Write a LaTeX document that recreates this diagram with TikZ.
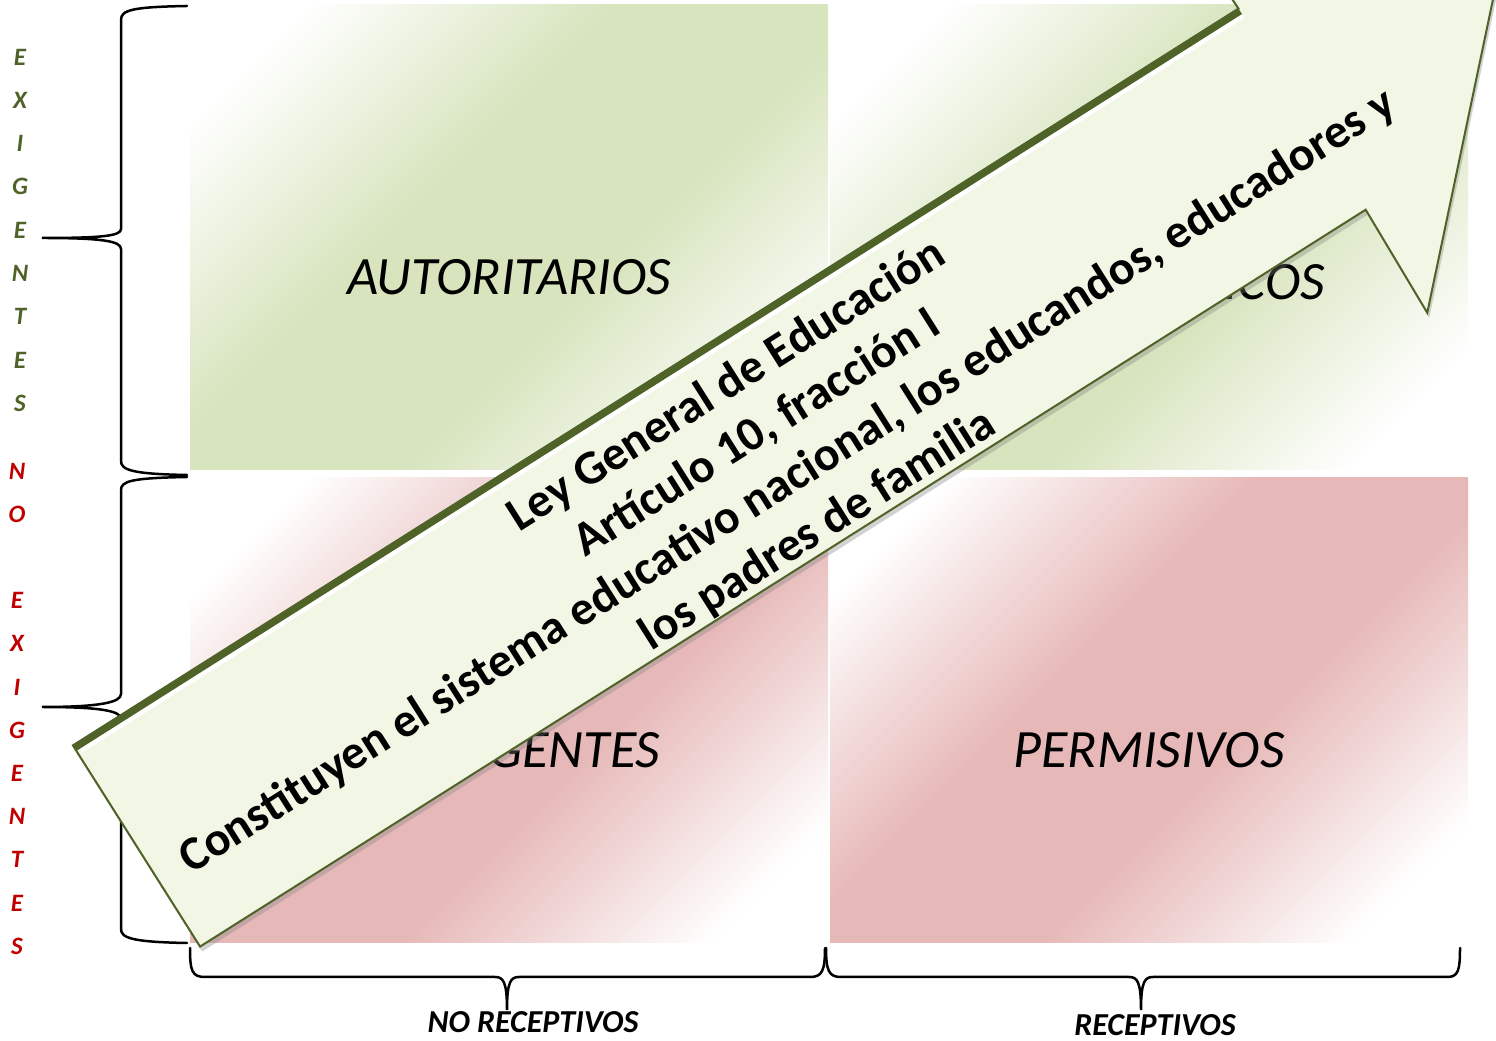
\documentclass[tikz,border=0pt]{standalone}
\usepackage{fontspec}
\setmainfont{Carlito}
\usetikzlibrary{shadows}

\definecolor{verdecuad}{HTML}{D7E4BD}
\definecolor{rosacuad}{HTML}{E6B9B8}
\definecolor{fondoflecha}{HTML}{F2F7E5}
\definecolor{oliva}{HTML}{4F6228}
\definecolor{rojoletra}{HTML}{C00000}

% degradados diagonales blanco - color - blanco
\pgfdeclareverticalshading{degverde}{100bp}{color(0bp)=(white); color(22bp)=(white);
  color(42bp)=(verdecuad); color(58bp)=(verdecuad); color(78bp)=(white); color(100bp)=(white)}
\pgfdeclareverticalshading{degrosa}{100bp}{color(0bp)=(white); color(22bp)=(white);
  color(42bp)=(rosacuad); color(58bp)=(rosacuad); color(78bp)=(white); color(100bp)=(white)}

\tikzset{
  cuadrante/.style={minimum width=638pt,minimum height=465pt,inner sep=0pt,
    shade,shading angle=45},
  etiqueta/.style={font=\itshape\fontsize{54}{60}\selectfont},
  letra/.style={font=\bfseries\itshape\fontsize{25}{28}\selectfont},
  eje/.style={font=\bfseries\itshape\fontsize{32}{36}\selectfont,inner sep=1pt},
  llave/.style={line width=2.5pt,line cap=round},
  textoflecha/.style={font=\bfseries\fontsize{48}{57}\selectfont,align=center}
}

\begin{document}
\begin{tikzpicture}[x=1pt,y=1pt]

\useasboundingbox (0,0) rectangle (1496,1041);
\fill[white] (0,0) rectangle (1496,1041);
\clip (0,0) rectangle (1496,1041);

% cuadrantes
\node[cuadrante,shading=degverde] (autor) at (509,803.5) {};
\node[cuadrante,shading=degverde] (democ) at (1149,803.5) {};
\node[cuadrante,shading=degrosa] (neglig) at (509,330.5) {};
\node[cuadrante,shading=degrosa] (permis) at (1149,330.5) {};

\node[etiqueta] (autortxt) at ([yshift=-40pt]autor.center) {AUTORITARIOS};
\node[etiqueta] (democtxt) at ([yshift=-40pt]democ.center) {DEMOCRÁTICOS};
\node[etiqueta] (negligtxt) at ([yshift=-40pt]neglig.center) {NEGLIGENTES};
\node[etiqueta] (permistxt) at ([yshift=-40pt]permis.center) {PERMISIVOS};

% letras verticales
\foreach \ch [count=\i from 0] in {E,X,I,G,E,N,T,E,S}
  \node[letra,text=oliva] (exi\i) at (20,{984-43.3*\i}) {\ch};
\foreach \ch/\k in {N/0,O/1,E/3,X/4,I/5,G/6,E/7,N/8,T/9,E/10,S/11}
  \node[letra,text=rojoletra] (noexi\k) at (17,{570-43.2*\k}) {\ch};

% llaves
\draw[llave] (187,1035) .. controls (132,1034) and (121,1031) .. (121,1021) -- (121,812)
  .. controls (121,805) and (102,803) .. (42,803)
  .. controls (102,803) and (121,800) .. (121,792) -- (121,580)
  .. controls (121,571) and (132,567) .. (187,566);
\draw[llave] (187,564) .. controls (132,563) and (121,560) .. (121,551) -- (121,347)
  .. controls (121,339) and (102,334) .. (42,334)
  .. controls (102,334) and (121,330) .. (121,322) -- (121,112)
  .. controls (121,103) and (132,99) .. (187,98);

\draw[llave] (190,93) .. controls (190,70) and (192,64) .. (205,64) -- (495,64)
  .. controls (503,64) and (507,60) .. (507,31)
  .. controls (507,60) and (511,64) .. (519,64) -- (810,64)
  .. controls (822,64) and (825,70) .. (825,93);
\draw[llave] (826,93) .. controls (826,70) and (829,64) .. (841,64) -- (1129,64)
  .. controls (1137,64) and (1141,60) .. (1141,31)
  .. controls (1141,60) and (1145,64) .. (1153,64) -- (1447,64)
  .. controls (1458,64) and (1460,70) .. (1460,93);

\node[eje] (norecep) at (533,19) {NO RECEPTIVOS};
\node[eje] (recep) at (1155,16) {RECEPTIVOS};

% flecha
\begin{scope}[shift={(136.5,195)},rotate=32.3]
  \path[drop shadow={opacity=0.35,shadow xshift=2pt,shadow yshift=-5pt},
    fill=fondoflecha,draw=oliva,line width=2pt]
    (0,119) -- (0,-119) -- (1379,-119) -- (1376,-239) -- (1608,0)
    -- (1376,239) -- (1379,119) -- cycle;
  \draw[oliva,line width=7pt] (0,116) -- (1379,116);
  \draw[white,line width=4pt] (4,110) -- (1379,110);
  \node[textoflecha,transform shape] (ley) at (745,-12)
    {Ley General de Educación\\
     Artículo 10, fracción I\\
     Constituyen el sistema educativo nacional, los educandos, educadores y\\
     los padres de familia};
\end{scope}

\end{tikzpicture}
\end{document}
